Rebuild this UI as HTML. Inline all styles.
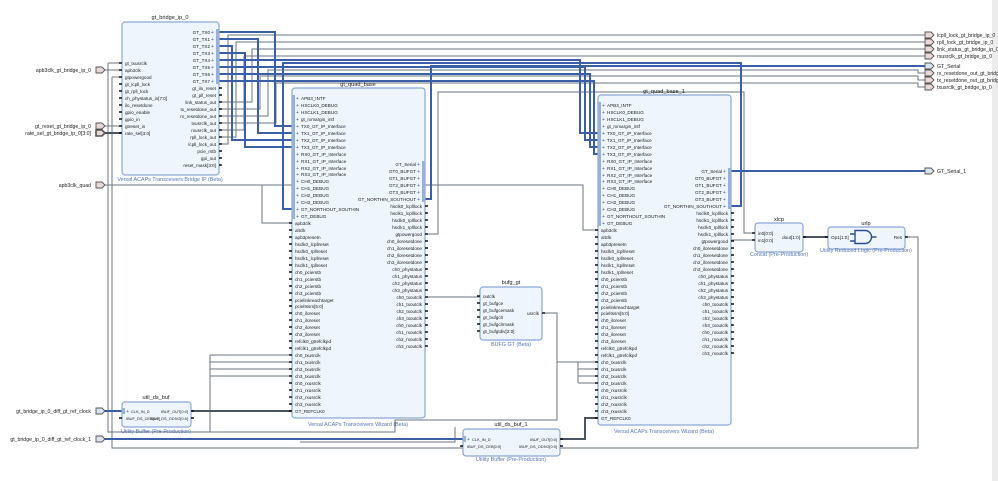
<!DOCTYPE html>
<html><head><meta charset="utf-8"><style>
html,body{margin:0;padding:0;background:#fff;width:998px;height:481px;overflow:hidden}
svg{display:block;font-family:"Liberation Sans","DejaVu Sans",sans-serif}
.b{fill:#eef5fd;stroke:#8aa6d6;stroke-width:1.2}
.t{font-size:4.6px;fill:#222}
.ts{font-size:3.9px;fill:#222}
.ti{font-size:5.6px;fill:#222}
.ft{font-size:5.4px;fill:#5575b8}
.ex{font-size:5.2px;fill:#222}
.w{stroke:#6b7580;stroke-width:1;fill:none}
.wt{stroke:#4a5460;stroke-width:2;fill:none}
.bl{stroke:#3b5fa6;stroke-width:2;fill:none}
.pin{stroke:#111;stroke-width:1.6}
.pl{font-size:5px;fill:#3b5fa6}
</style></head><body>
<svg width="998" height="481" viewBox="0 0 998 481" xmlns="http://www.w3.org/2000/svg">
<rect x="992" y="0" width="6" height="481" fill="#ececec"/>

<g class="w">
<path d="M104 70H122"/><path d="M104 126H122"/>
<path d="M104 185H583V230H598"/><path d="M262 185V223H292"/>
<path d="M112 77H122M112 77V448H918V237H905"/>
<path d="M108 63H122M108 63V432H210"/>
<path d="M210 355V432H395V420H557V313H542"/>
<path d="M210 355H292M210 362H292M210 369H292M210 376H292"/>
<path d="M557 362H578V383M578 362H598M578 369H598M578 376H598M578 383H598"/>
<path d="M425 297H480"/>
<path d="M219 144H228V35H925"/>
<path d="M219 137H236V42H925"/>
<path d="M219 102H252V49H925"/>
<path d="M219 130H244V56H925"/>
<path d="M219 116H268V70H918V73H925"/>
<path d="M219 109H260V76H918V80H925"/>
<path d="M219 123H276V83H918V87H925"/>
<path d="M425 234H438V92H744V233H755"/>
<path d="M731 240H755"/>
<path d="M300 442H455V427"/>
</g>
<g class="wt">
<path d="M104 133H122"/>
<path d="M191 411H292"/>
<path d="M560 439H585V418H598"/>
<path d="M803 237H828"/>
</g>
<g class="bl">
<path d="M219 32H275V126H292"/>
<path d="M219 39H258V133H292"/>
<path d="M219 46H232V140H292"/>
<path d="M219 53H245V147H292"/>
<path d="M219 60H580V133H598"/>
<path d="M219 67H585V140H598"/>
<path d="M219 74H590V147H598"/>
<path d="M219 81H594V154H598"/>
<path d="M731 206H741V63H283V209H292"/>
<path d="M425 199H431V66H925"/>
<path d="M731 171H925"/>
<path d="M104 411H122"/>
<path d="M104 439H463"/>
</g>

<g fill="#e9d8d8" stroke="#555" stroke-width="0.9">
<path d="M96 67h6l3 3l-3 3h-6z"/>
<path d="M96 123h6l3 3l-3 3h-6z"/>
<path d="M96 130h6l3 3l-3 3h-6z" stroke-width="1.6"/>
<path d="M96 182h6l3 3l-3 3h-6z"/>
<path d="M96 408h6l3 3l-3 3h-6z" fill="#d8e4ee"/>
<path d="M96 436h6l3 3l-3 3h-6z" fill="#d8e4ee"/>
<path d="M925 32h6l3 3l-3 3h-6z"/>
<path d="M925 39h6l3 3l-3 3h-6z"/>
<path d="M925 46h6l3 3l-3 3h-6z"/>
<path d="M925 53h6l3 3l-3 3h-6z"/>
<path d="M925 63h6l3 3l-3 3h-6z" fill="#d8e4ee"/>
<path d="M925 70h6l3 3l-3 3h-6z"/>
<path d="M925 77h6l3 3l-3 3h-6z"/>
<path d="M925 84h6l3 3l-3 3h-6z"/>
<path d="M925 168h6l3 3l-3 3h-6z" fill="#d8e4ee"/>
</g>
<g class="ex" text-anchor="end">
<text x="91" y="72">apb3clk_gt_bridge_ip_0</text>
<text x="91" y="128">gt_reset_gt_bridge_ip_0</text>
<text x="91" y="135">rate_sel_gt_bridge_ip_0[3:0]</text>
<text x="91" y="187">apb3clk_quad</text>
<text x="91" y="413">gt_bridge_ip_0_diff_gt_ref_clock</text>
<text x="91" y="441">gt_bridge_ip_0_diff_gt_ref_clock_1</text>
</g>
<g class="ex">
<text x="937" y="37">lcpll_lock_gt_bridge_ip_0</text>
<text x="937" y="44">rpll_lock_gt_bridge_ip_0</text>
<text x="937" y="51">link_status_gt_bridge_ip_0</text>
<text x="937" y="58">rxusrclk_gt_bridge_ip_0</text>
<text x="937" y="68">GT_Serial</text>
<text x="937" y="75">rx_resetdone_out_gt_bridge_ip_0</text>
<text x="937" y="82">tx_resetdone_out_gt_bridge_ip_0</text>
<text x="937" y="89">txusrclk_gt_bridge_ip_0</text>
<text x="937" y="173">GT_Serial_1</text>
</g>

<text class="ti" x="170" y="19" text-anchor="middle">gt_bridge_ip_0</text>
<rect class="b" x="122" y="22" width="97" height="153" rx="3"/>
<rect x="216" y="29" width="3" height="55" fill="#9ab0d8"/>
<g class="pin">
<path d="M119 63h3M119 70h3M119 77h3M119 84h3M119 91h3M119 98h3M119 105h3M119 112h3M119 119h3M119 126h3M119 133h3"/>
<path d="M219 88h3M219 95h3M219 102h3M219 109h3M219 116h3M219 123h3M219 130h3M219 137h3M219 144h3M219 151h3M219 158h3M219 165h3"/>
</g>
<g class="t">
<text x="125" y="65">gt_txusrclk</text><text x="125" y="72">apb3clk</text><text x="125" y="79">gtpowergood</text><text x="125" y="86">gt_lcpll_lock</text><text x="125" y="93">gt_rpll_lock</text><text x="125" y="100">ch_phystatus_in[7:0]</text><text x="125" y="107">ilo_resetdone</text><text x="125" y="114">gpio_enable</text><text x="125" y="121">gpio_in</text><text x="125" y="128">gtreset_in</text><text x="125" y="135">rate_sel[3:0]</text>
</g>
<g class="t" text-anchor="end">
<text x="210" y="34">GT_TX0</text><text x="210" y="41">GT_TX1</text><text x="210" y="48">GT_TX2</text><text x="210" y="55">GT_TX3</text><text x="210" y="62">GT_TX4</text><text x="210" y="69">GT_TX5</text><text x="210" y="76">GT_TX6</text><text x="210" y="83">GT_TX7</text>
<text x="216" y="90">gt_ilo_reset</text><text x="216" y="97">gt_pll_reset</text><text x="216" y="104">link_status_out</text><text x="216" y="111">tx_resetdone_out</text><text x="216" y="118">rx_resetdone_out</text><text x="216" y="125">txusrclk_out</text><text x="216" y="132">rxusrclk_out</text><text x="216" y="139">rpll_lock_out</text><text x="216" y="146">lcpll_lock_out</text><text x="216" y="153">pcie_rstb</text><text x="216" y="160">gpi_out</text><text x="216" y="167">reset_mask[3:0]</text>
</g>
<g class="pl"><text x="211" y="34">+</text><text x="211" y="41">+</text><text x="211" y="48">+</text><text x="211" y="55">+</text><text x="211" y="62">+</text><text x="211" y="69">+</text><text x="211" y="76">+</text><text x="211" y="83">+</text></g>
<text class="ft" x="170" y="181" text-anchor="middle">Versal ACAPs Transceivers Bridge IP (Beta)</text>

<text class="ti" x="358" y="86" text-anchor="middle">gt_quad_base</text>
<g>
<rect class="b" x="292" y="88" width="133" height="330" rx="3"/>
<rect x="292" y="95" width="3" height="124" fill="#9ab0d8"/>
<rect x="422" y="161" width="3" height="41" fill="#9ab0d8"/>
<g class="pin">
<path d="M289 223h3M289 230h3M289 237h3M289 244h3M289 251h3M289 258h3M289 265h3M289 272h3M289 279h3M289 286h3M289 293h3M289 300h3M289 306h3M289 313h3M289 320h3M289 327h3M289 334h3M289 341h3M289 348h3M289 355h3M289 362h3M289 369h3M289 376h3M289 383h3M289 390h3M289 397h3M289 404h3M289 411h3"/>
<path d="M425 206h3M425 213h3M425 220h3M425 227h3M425 234h3M425 241h3M425 248h3M425 255h3M425 262h3M425 269h3M425 276h3M425 283h3M425 290h3M425 297h3M425 304h3M425 311h3M425 318h3M425 325h3M425 332h3M425 339h3M425 346h3"/>
</g>
<g class="pl"><text x="296" y="100">+</text><text x="296" y="107">+</text><text x="296" y="114">+</text><text x="296" y="121">+</text><text x="296" y="128">+</text><text x="296" y="135">+</text><text x="296" y="142">+</text><text x="296" y="149">+</text><text x="296" y="156">+</text><text x="296" y="163">+</text><text x="296" y="170">+</text><text x="296" y="176">+</text><text x="296" y="183">+</text><text x="296" y="190">+</text><text x="296" y="197">+</text><text x="296" y="204">+</text><text x="296" y="211">+</text><text x="296" y="218">+</text>
<text x="417" y="166">+</text><text x="417" y="173">+</text><text x="417" y="180">+</text><text x="417" y="187">+</text><text x="417" y="194">+</text><text x="417" y="201">+</text></g>
<g class="t">
<text x="301" y="100">APB3_INTF</text><text x="301" y="107">HSCLK0_DEBUG</text><text x="301" y="114">HSCLK1_DEBUG</text><text x="301" y="121">gt_rxmargin_intf</text><text x="301" y="128">TX0_GT_IP_Interface</text><text x="301" y="135">TX1_GT_IP_Interface</text><text x="301" y="142">TX2_GT_IP_Interface</text><text x="301" y="149">TX3_GT_IP_Interface</text><text x="301" y="156">RX0_GT_IP_Interface</text><text x="301" y="163">RX1_GT_IP_Interface</text><text x="301" y="170">RX2_GT_IP_Interface</text><text x="301" y="176">RX3_GT_IP_Interface</text><text x="301" y="183">CH0_DEBUG</text><text x="301" y="190">CH1_DEBUG</text><text x="301" y="197">CH2_DEBUG</text><text x="301" y="204">CH3_DEBUG</text><text x="301" y="211">GT_NORTHOUT_SOUTHIN</text><text x="301" y="218">GT_DEBUG</text>
<text x="295" y="225">apb3clk</text><text x="295" y="232">altclk</text><text x="295" y="239">apb3presetn</text><text x="295" y="246">hsclk0_lcpllreset</text><text x="295" y="253">hsclk0_rpllreset</text><text x="295" y="260">hsclk1_lcpllreset</text><text x="295" y="267">hsclk1_rpllreset</text><text x="295" y="274">ch0_pcierstb</text><text x="295" y="281">ch1_pcierstb</text><text x="295" y="288">ch2_pcierstb</text><text x="295" y="295">ch3_pcierstb</text><text x="295" y="302">pcielinkreachtarget</text><text x="295" y="308">pcieltssm[5:0]</text><text x="295" y="315">ch0_iloreset</text><text x="295" y="322">ch1_iloreset</text><text x="295" y="329">ch2_iloreset</text><text x="295" y="336">ch3_iloreset</text><text x="295" y="343">refclk0_gtrefclkpd</text><text x="295" y="350">refclk1_gtrefclkpd</text><text x="295" y="357">ch0_txusrclk</text><text x="295" y="364">ch1_txusrclk</text><text x="295" y="371">ch2_txusrclk</text><text x="295" y="378">ch3_txusrclk</text><text x="295" y="385">ch0_rxusrclk</text><text x="295" y="392">ch1_rxusrclk</text><text x="295" y="399">ch2_rxusrclk</text><text x="295" y="406">ch3_rxusrclk</text><text x="295" y="413">GT_REFCLK0</text>
</g>
<g class="t" text-anchor="end">
<text x="416" y="166">GT_Serial</text><text x="416" y="173">GT0_BUFGT</text><text x="416" y="180">GT1_BUFGT</text><text x="416" y="187">GT2_BUFGT</text><text x="416" y="194">GT3_BUFGT</text><text x="416" y="201">GT_NORTHIN_SOUTHOUT</text>
<text x="422" y="208">hsclk0_lcplllock</text><text x="422" y="215">hsclk1_lcplllock</text><text x="422" y="222">hsclk0_rplllock</text><text x="422" y="229">hsclk1_rplllock</text><text x="422" y="236">gtpowergood</text><text x="422" y="243">ch0_iloresetdone</text><text x="422" y="250">ch1_iloresetdone</text><text x="422" y="257">ch2_iloresetdone</text><text x="422" y="264">ch3_iloresetdone</text><text x="422" y="271">ch0_phystatus</text><text x="422" y="278">ch1_phystatus</text><text x="422" y="285">ch2_phystatus</text><text x="422" y="292">ch3_phystatus</text><text x="422" y="299">ch0_txoutclk</text><text x="422" y="306">ch1_txoutclk</text><text x="422" y="313">ch2_txoutclk</text><text x="422" y="320">ch3_txoutclk</text><text x="422" y="327">ch0_rxoutclk</text><text x="422" y="334">ch1_rxoutclk</text><text x="422" y="341">ch2_rxoutclk</text><text x="422" y="348">ch3_rxoutclk</text>
</g>
<text class="ft" x="358" y="426" text-anchor="middle">Versal ACAPs Transceivers Wizard (Beta)</text>
</g>

<text class="ti" x="664" y="93" text-anchor="middle">gt_quad_base_1</text>
<g transform="translate(306,7)">
<rect class="b" x="292" y="88" width="133" height="330" rx="3"/>
<rect x="292" y="95" width="3" height="124" fill="#9ab0d8"/>
<rect x="422" y="161" width="3" height="41" fill="#9ab0d8"/>
<g class="pin">
<path d="M289 223h3M289 230h3M289 237h3M289 244h3M289 251h3M289 258h3M289 265h3M289 272h3M289 279h3M289 286h3M289 293h3M289 300h3M289 306h3M289 313h3M289 320h3M289 327h3M289 334h3M289 341h3M289 348h3M289 355h3M289 362h3M289 369h3M289 376h3M289 383h3M289 390h3M289 397h3M289 404h3M289 411h3"/>
<path d="M425 206h3M425 213h3M425 220h3M425 227h3M425 234h3M425 241h3M425 248h3M425 255h3M425 262h3M425 269h3M425 276h3M425 283h3M425 290h3M425 297h3M425 304h3M425 311h3M425 318h3M425 325h3M425 332h3M425 339h3M425 346h3"/>
</g>
<g class="pl"><text x="296" y="100">+</text><text x="296" y="107">+</text><text x="296" y="114">+</text><text x="296" y="121">+</text><text x="296" y="128">+</text><text x="296" y="135">+</text><text x="296" y="142">+</text><text x="296" y="149">+</text><text x="296" y="156">+</text><text x="296" y="163">+</text><text x="296" y="170">+</text><text x="296" y="176">+</text><text x="296" y="183">+</text><text x="296" y="190">+</text><text x="296" y="197">+</text><text x="296" y="204">+</text><text x="296" y="211">+</text><text x="296" y="218">+</text>
<text x="417" y="166">+</text><text x="417" y="173">+</text><text x="417" y="180">+</text><text x="417" y="187">+</text><text x="417" y="194">+</text><text x="417" y="201">+</text></g>
<g class="t">
<text x="301" y="100">APB3_INTF</text><text x="301" y="107">HSCLK0_DEBUG</text><text x="301" y="114">HSCLK1_DEBUG</text><text x="301" y="121">gt_rxmargin_intf</text><text x="301" y="128">TX0_GT_IP_Interface</text><text x="301" y="135">TX1_GT_IP_Interface</text><text x="301" y="142">TX2_GT_IP_Interface</text><text x="301" y="149">TX3_GT_IP_Interface</text><text x="301" y="156">RX0_GT_IP_Interface</text><text x="301" y="163">RX1_GT_IP_Interface</text><text x="301" y="170">RX2_GT_IP_Interface</text><text x="301" y="176">RX3_GT_IP_Interface</text><text x="301" y="183">CH0_DEBUG</text><text x="301" y="190">CH1_DEBUG</text><text x="301" y="197">CH2_DEBUG</text><text x="301" y="204">CH3_DEBUG</text><text x="301" y="211">GT_NORTHOUT_SOUTHIN</text><text x="301" y="218">GT_DEBUG</text>
<text x="295" y="225">apb3clk</text><text x="295" y="232">altclk</text><text x="295" y="239">apb3presetn</text><text x="295" y="246">hsclk0_lcpllreset</text><text x="295" y="253">hsclk0_rpllreset</text><text x="295" y="260">hsclk1_lcpllreset</text><text x="295" y="267">hsclk1_rpllreset</text><text x="295" y="274">ch0_pcierstb</text><text x="295" y="281">ch1_pcierstb</text><text x="295" y="288">ch2_pcierstb</text><text x="295" y="295">ch3_pcierstb</text><text x="295" y="302">pcielinkreachtarget</text><text x="295" y="308">pcieltssm[5:0]</text><text x="295" y="315">ch0_iloreset</text><text x="295" y="322">ch1_iloreset</text><text x="295" y="329">ch2_iloreset</text><text x="295" y="336">ch3_iloreset</text><text x="295" y="343">refclk0_gtrefclkpd</text><text x="295" y="350">refclk1_gtrefclkpd</text><text x="295" y="357">ch0_txusrclk</text><text x="295" y="364">ch1_txusrclk</text><text x="295" y="371">ch2_txusrclk</text><text x="295" y="378">ch3_txusrclk</text><text x="295" y="385">ch0_rxusrclk</text><text x="295" y="392">ch1_rxusrclk</text><text x="295" y="399">ch2_rxusrclk</text><text x="295" y="406">ch3_rxusrclk</text><text x="295" y="413">GT_REFCLK0</text>
</g>
<g class="t" text-anchor="end">
<text x="416" y="166">GT_Serial</text><text x="416" y="173">GT0_BUFGT</text><text x="416" y="180">GT1_BUFGT</text><text x="416" y="187">GT2_BUFGT</text><text x="416" y="194">GT3_BUFGT</text><text x="416" y="201">GT_NORTHIN_SOUTHOUT</text>
<text x="422" y="208">hsclk0_lcplllock</text><text x="422" y="215">hsclk1_lcplllock</text><text x="422" y="222">hsclk0_rplllock</text><text x="422" y="229">hsclk1_rplllock</text><text x="422" y="236">gtpowergood</text><text x="422" y="243">ch0_iloresetdone</text><text x="422" y="250">ch1_iloresetdone</text><text x="422" y="257">ch2_iloresetdone</text><text x="422" y="264">ch3_iloresetdone</text><text x="422" y="271">ch0_phystatus</text><text x="422" y="278">ch1_phystatus</text><text x="422" y="285">ch2_phystatus</text><text x="422" y="292">ch3_phystatus</text><text x="422" y="299">ch0_txoutclk</text><text x="422" y="306">ch1_txoutclk</text><text x="422" y="313">ch2_txoutclk</text><text x="422" y="320">ch3_txoutclk</text><text x="422" y="327">ch0_rxoutclk</text><text x="422" y="334">ch1_rxoutclk</text><text x="422" y="341">ch2_rxoutclk</text><text x="422" y="348">ch3_rxoutclk</text>
</g>
<text class="ft" x="358" y="426" text-anchor="middle">Versal ACAPs Transceivers Wizard (Beta)</text>
</g>

<text class="ti" x="511" y="284" text-anchor="middle">bufg_gt</text>
<rect class="b" x="480" y="287" width="62" height="53" rx="3"/>
<g class="pin"><path d="M477 296h3M477 303h3M477 310h3M477 317h3M477 324h3M477 331h3M542 313h3"/></g>
<g class="t"><text x="483" y="298">outclk</text><text x="483" y="305">gt_bufgce</text><text x="483" y="312">gt_bufgcemask</text><text x="483" y="319">gt_bufgclr</text><text x="483" y="326">gt_bufgclrmask</text><text x="483" y="333">gt_bufgtdiv[2:0]</text><text x="539" y="315" text-anchor="end">usrclk</text></g>
<text class="ft" x="511" y="346" text-anchor="middle">BUFG GT (Beta)</text>

<text class="ti" x="779" y="221" text-anchor="middle">xlcp</text>
<rect class="b" x="755" y="223" width="48" height="29" rx="3"/>
<g class="pin"><path d="M752 233h3M752 240h3M803 237h3"/></g>
<g class="t"><text x="758" y="235">in0[0:0]</text><text x="758" y="242">in1[0:0]</text><text x="800" y="239" text-anchor="end">dout[1:0]</text></g>
<text class="ft" x="779" y="256" text-anchor="middle">Concat (Pre-Production)</text>

<text class="ti" x="866" y="225" text-anchor="middle">urlp</text>
<rect class="b" x="828" y="227" width="77" height="22" rx="3"/>
<g class="pin"><path d="M825 237h3M905 237h3"/></g>
<g class="t"><text x="831" y="239">Op1[1:0]</text><text x="902" y="239" text-anchor="end">Res</text></g>
<path d="M855 230.5h10a6.5 6.5 0 0 1 0 13h-10zM850 234h5M850 241h5M871.5 237h5" fill="none" stroke="#2d4f92" stroke-width="1.4"/>
<text class="ft" x="866" y="252" text-anchor="middle">Utility Reduced Logic (Pre-Production)</text>

<text class="ti" x="156" y="399" text-anchor="middle">util_ds_buf</text>
<rect class="b" x="122" y="402" width="69" height="25" rx="3"/>
<rect x="122" y="408" width="3" height="6" fill="#9ab0d8"/>
<g class="pin"><path d="M119 418h3M191 411h3M191 418h3"/></g>
<g class="ts"><text class="pl" x="126" y="413">+</text><text x="131" y="413">CLK_IN_D</text><text x="126" y="420">IBUF_DS_CEB[0:0]</text><text x="188" y="413" text-anchor="end">IBUF_OUT[0:0]</text><text x="188" y="420" text-anchor="end">IBUF_DS_ODIV2[0:0]</text></g>
<text class="ft" x="156" y="433" text-anchor="middle">Utility Buffer (Pre-Production)</text>

<text class="ti" x="511" y="426" text-anchor="middle">util_ds_buf_1</text>
<rect class="b" x="463" y="429" width="97" height="27" rx="3"/>
<rect x="463" y="436" width="3" height="6" fill="#9ab0d8"/>
<g class="pin"><path d="M460 446h3M560 439h3M560 446h3"/></g>
<g class="ts"><text class="pl" x="467" y="441">+</text><text x="472" y="441">CLK_IN_D</text><text x="467" y="448">IBUF_DS_CEB[0:0]</text><text x="557" y="441" text-anchor="end">IBUF_OUT[0:0]</text><text x="557" y="448" text-anchor="end">IBUF_DS_ODIV2[0:0]</text></g>
<text class="ft" x="511" y="461" text-anchor="middle">Utility Buffer (Pre-Production)</text>
</svg>
</body></html>
